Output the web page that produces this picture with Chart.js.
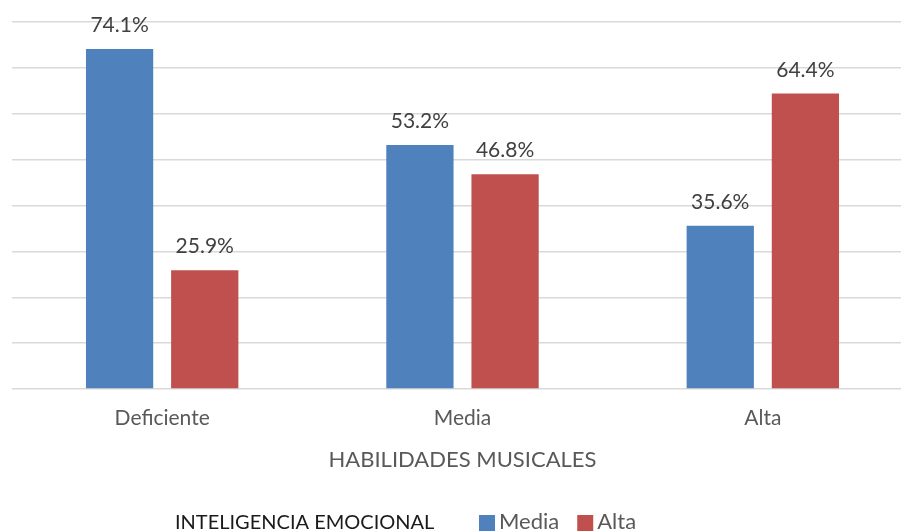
<!DOCTYPE html>
<html>
<head>
<meta charset="utf-8">
<script src="https://cdn.jsdelivr.net/npm/chart.js@4"></script>
<style>
  html, body { margin: 0; padding: 0; background: #fff; overflow: hidden; }
  #wrap { width: 913px; height: 531px; }
</style>
</head>
<body>
<div id="wrap"><canvas id="myChart"></canvas></div>
<script>
// données
const categorias = ["Deficiente", "Media", "Alta"];
const serieMedia = [74.1, 53.2, 35.6];
const serieAlta = [25.9, 46.8, 64.4];
const tituloX = "HABILIDADES MUSICALES";
const tituloLeyenda = "INTELIGENCIA EMOCIONAL";

const FONT = "Lato";

// étiquettes au-dessus des barres
const etiquetas = {
    id: 'etiquetas',
    afterDatasetsDraw(chart) {
        const ctx = chart.ctx;
        ctx.save();
        ctx.font = '21px ' + FONT;
        ctx.fillStyle = '#404040';
        ctx.textAlign = 'center';
        ctx.textBaseline = 'alphabetic';
        chart.data.datasets.forEach((ds, i) => {
            chart.getDatasetMeta(i).data.forEach((bar, j) => {
                ctx.fillText(ds.data[j].toFixed(1) + '%', bar.x, bar.y - 17);
            });
        });
        ctx.restore();
    }
};

// légende avec le titre à gauche
const leyenda = {
    id: 'leyenda',
    afterDraw(chart) {
        const ctx = chart.ctx;
        const y = 529;
        ctx.save();
        ctx.textBaseline = 'alphabetic';
        ctx.textAlign = 'left';
        ctx.font = '20px ' + FONT;
        ctx.fillStyle = '#1a1a1a';
        let x = 175;
        ctx.fillText(tituloLeyenda, x, y);
        x = 479;
        ctx.font = '22px ' + FONT;
        chart.data.datasets.forEach(ds => {
            ctx.fillStyle = ds.backgroundColor;
            ctx.fillRect(x, y - 14, 16, 16);
            x += 20;
            ctx.fillStyle = '#595959';
            ctx.fillText(ds.label, x, y);
            x += ctx.measureText(ds.label).width + 18;
        });
        ctx.restore();
    }
};

const ctx = document.getElementById('myChart').getContext('2d');
const myChart = new Chart(ctx, {
    type: 'bar',
    data: {
        labels: categorias,
        datasets: [{
            label: 'Media',
            data: serieMedia,
            backgroundColor: '#4f81bd',
            categoryPercentage: 0.567,
            barPercentage: 0.79
        }, {
            label: 'Alta',
            data: serieAlta,
            backgroundColor: '#c0504d',
            categoryPercentage: 0.567,
            barPercentage: 0.79
        }]
    },
    options: {
        responsive: true,
        maintainAspectRatio: false,
        animation: false,
        layout: { padding: { left: 12, right: 0, top: 22, bottom: 50 } },
        plugins: {
            legend: { display: false },
            tooltip: { enabled: false }
        },
        scales: {
            x: {
                grid: { display: false, drawTicks: false },
                border: { display: false },
                ticks: { color: '#595959', font: { family: FONT, size: 21 }, padding: 17 },
                title: {
                    display: true,
                    text: tituloX,
                    color: '#595959',
                    font: { family: FONT, size: 22 },
                    padding: { top: 0, bottom: 8 }
                },
                afterFit(axis) { axis.height = 531 - 389 - 50; }
            },
            y: {
                min: 0,
                max: 80,
                ticks: { display: false, stepSize: 10 },
                grid: { color: '#d9d9d9', lineWidth: 1.5, drawTicks: false },
                border: { display: false }
            }
        }
    },
    plugins: [etiquetas, leyenda]
});
</script>
</body>
</html>
